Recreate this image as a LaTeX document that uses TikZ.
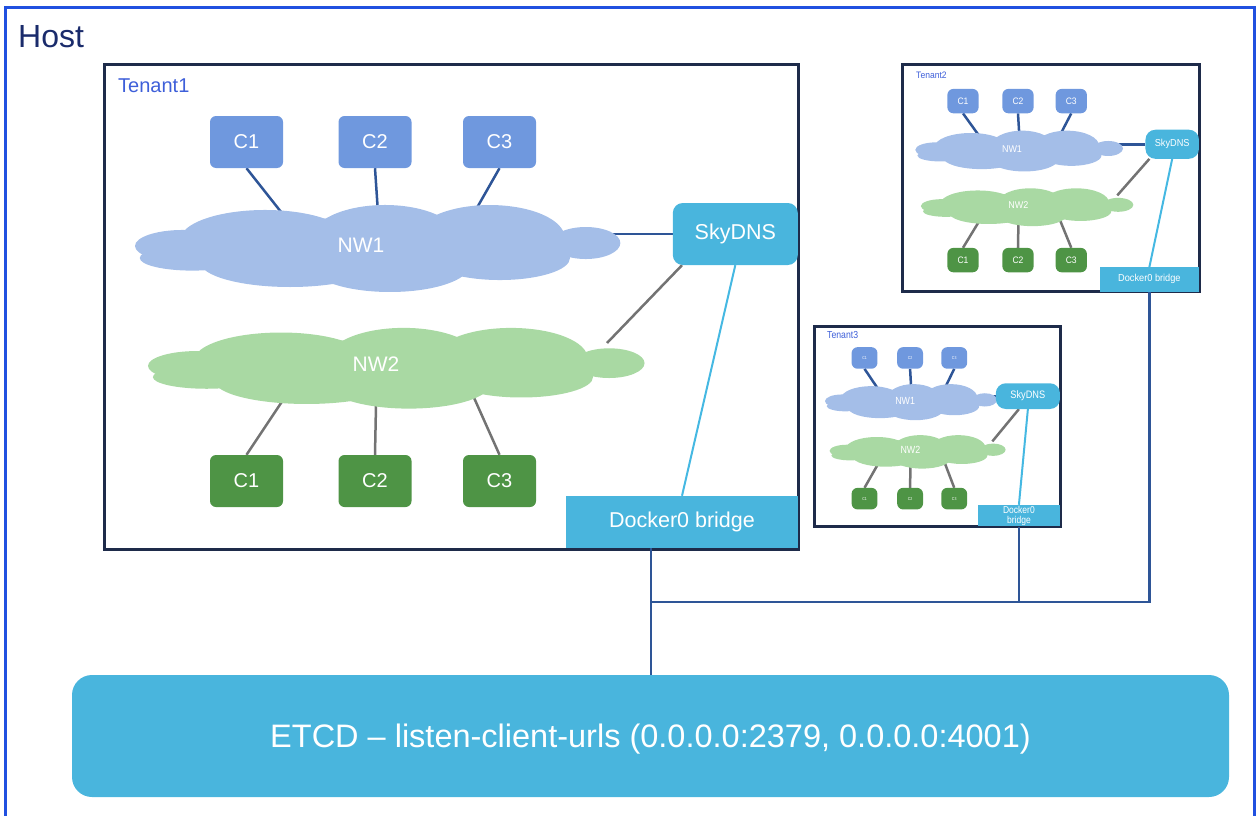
\documentclass[tikz,border=0pt]{standalone}
\usepackage{fontspec}
\setmainfont{Liberation Sans}
\usetikzlibrary{positioning, backgrounds, calc}

\definecolor{hostblue}{HTML}{2050E0}
\definecolor{hostnavy}{HTML}{1A2B6B}
\definecolor{tenantnavy}{HTML}{1E2B4A}
\definecolor{labelblue}{HTML}{3E5FD9}
\definecolor{cblue}{HTML}{6F98DE}
\definecolor{cgreen}{HTML}{4E9445}
\definecolor{nwblue}{HTML}{A4BEE8}
\definecolor{nwgreen}{HTML}{A9D9A3}
\definecolor{skyblue}{HTML}{49B5DD}
\definecolor{linenavy}{HTML}{2E5597}
\definecolor{linegray}{HTML}{737373}
\definecolor{skyline}{HTML}{45B8E2}

\newcommand{\pxfont}[1]{\fontsize{#1}{#1}\selectfont}

\tikzset{
  % cloud outline as a union of puffs, unit half-width and half-height
  pics/netcloud/.style={code={
    \fill (0.0,0.06)      ellipse [x radius=0.86, y radius=0.62];
    \fill (-0.455,-0.103) ellipse [x radius=0.356, y radius=0.619];
    \fill (0.048,-0.103)  ellipse [x radius=0.314, y radius=0.722];
    \fill (0.488,-0.144)  ellipse [x radius=0.314, y radius=0.680];
    \fill (0.890,-0.041)  ellipse [x radius=0.145, y radius=0.330];
    \fill (-0.800,0.020)  ellipse [x radius=0.200, y radius=0.330];
    \fill (-0.350,0.351)  ellipse [x radius=0.377, y radius=0.515];
    \fill (0.069,0.412)   ellipse [x radius=0.335, y radius=0.557];
    \fill (0.530,0.268)   ellipse [x radius=0.294, y radius=0.454];
    \fill (-0.760,0.268)  ellipse [x radius=0.220, y radius=0.260];
  }},
  % one tenant, drawn in its own frame (local pixel units, y downwards)
  pics/tenant/.style={code={
    \draw[tframe] (0,0) rectangle (694,484);
    \node[tlabel, anchor=west] (-label) at (14,21) {#1};
    % containers on NW1
    \node[ctop] (-c1) at (142.5,77) {C1};
    \node[ctop] (-c2) at (271,77) {C2};
    \node[ctop] (-c3) at (395.5,77) {C3};
    % the two networks
    \pic[fill=nwblue, xscale=238.5, yscale=48.5] at (269.5,180) {netcloud};
    \pic[fill=nwgreen, xscale=244, yscale=45] at (288,300) {netcloud};
    \node[nwtext] (-nw1) at (257,180) {NW1};
    \node[nwtext] (-nw2) at (272,299) {NW2};
    % containers on NW2
    \node[cbot] (-d1) at (142.5,416) {C1};
    \node[cbot] (-d2) at (271,416) {C2};
    \node[cbot] (-d3) at (395.5,416) {C3};
    \node[skybox, anchor=east] (-sky) at (694,169) {SkyDNS};
    \node[dockbox] (-dock) at (578,457) {Docker0 bridge};
    % attach points on the clouds
    \coordinate (-a1) at (181,152);
    \coordinate (-a2) at (274,148);
    \coordinate (-a3) at (370,148);
    \coordinate (-a4) at (503,278);
    \coordinate (-b1) at (181,332);
    \coordinate (-b2) at (272,340);
    \coordinate (-b3) at (367,326);
    \begin{scope}[on background layer]
      \draw[nline] (-c1.south) -- (-a1);
      \draw[nline] (-c2.south) -- (-a2);
      \draw[nline] (-c3.south) -- (-a3);
      \draw[nline] (-sky.west) -- (-nw1.center |- -sky.west);
      \draw[gline] ([xshift=-116pt]-sky.south east) -- (-a4);
      \draw[gline] (-b1) -- (-d1.north);
      \draw[gline] (-b2) -- (-d2.north);
      \draw[gline] (-b3) -- (-d3.north);
      \draw[sline] (-sky.south) -- (-dock.north);
    \end{scope}
  }}
}

\begin{document}
\begin{tikzpicture}[
  x=1pt, y=-1pt,
  hostframe/.style={draw=hostblue, line width=3pt},
  hostlabel/.style={text=hostnavy, font=\pxfont{32}, inner sep=0pt},
  tframe/.style={draw=tenantnavy, line width=3pt},
  tlabel/.style={text=labelblue, font=\pxfont{20}, inner sep=0pt},
  cbox/.style={rounded corners=6pt, minimum width=73pt, minimum height=52pt,
               text=white, font=\pxfont{20}, inner sep=0pt},
  ctop/.style={cbox, fill=cblue},
  cbot/.style={cbox, fill=cgreen},
  nwtext/.style={text=white, font=\pxfont{21}, inner sep=0pt},
  skybox/.style={fill=skyblue, rounded corners=10pt, minimum width=125pt,
                 minimum height=62pt, text=white, font=\pxfont{21.5}},
  dockbox/.style={fill=skyblue, minimum width=232pt, minimum height=52pt,
                  text=white, font=\pxfont{21.5}},
  etcdbox/.style={fill=skyblue, rounded corners=20pt, minimum width=1157pt,
                  minimum height=122pt, text=white, text depth=0pt, font=\pxfont{32.5}},
  nline/.style={draw=linenavy, line width=2.5pt},
  gline/.style={draw=linegray, line width=2.5pt},
  sline/.style={draw=skyline, line width=2pt},
  bus/.style={draw=linenavy, line width=2.5pt},
]
\useasboundingbox (0,0) rectangle (1258,816);

% ---------- Host ----------
\draw[hostframe] (5,8) rectangle (1254,820);
\node[hostlabel, anchor=west] (host) at (18,37) {Host};

% ---------- Tenants ----------
\pic (t1) at (104,65) {tenant=Tenant1};
\pic[xscale=0.428, yscale=0.469, transform shape,
     tlabel/.append style={xshift=19pt}]
  (t2) at (902,65) {tenant=Tenant2};
\pic[xscale=0.3545, yscale=0.415, transform shape,
     tlabel/.append style={xshift=23pt, font=\pxfont{24.5}},
     cbox/.append style={font=\pxfont{10}},
     nwtext/.append style={font=\pxfont{25}},
     skybox/.append style={minimum width=181pt, font=\pxfont{26}},
     dockbox/.append style={text width=100pt, align=center, inner sep=0pt,
                            font=\fontsize{24}{25}\selectfont}]
  (t3) at (814,326) {tenant=Tenant3};

% ---------- ETCD ----------
\node[etcdbox] (etcd) at (650.5,736) {ETCD – listen-client-urls (0.0.0.0:2379, 0.0.0.0:4001)};

% ---------- Bridges to ETCD ----------
\coordinate (hub) at (651,602);
\draw[bus] (t1-dock.south -| hub) -- (etcd.north -| hub);
\draw[bus] (hub) -| (t2-dock.south);
\draw[bus] (t3-dock.south) -- (t3-dock.south |- hub);

\end{tikzpicture}
\end{document}
